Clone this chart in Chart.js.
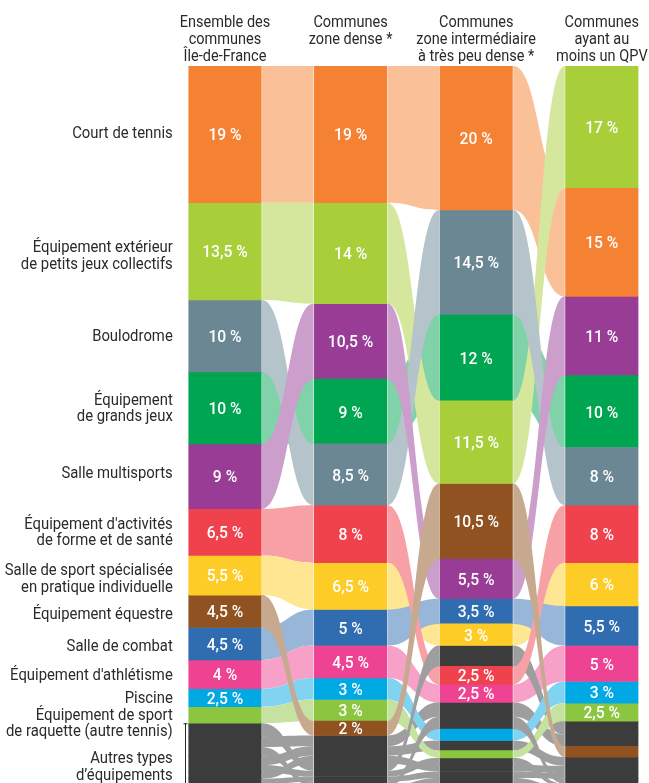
<!DOCTYPE html>
<html lang="fr">
<head>
<meta charset="utf-8">
<title>Types d'équipements par catégorie de communes</title>
<script src="https://cdn.jsdelivr.net/npm/chart.js@4/dist/chart.umd.min.js"></script>
<style>
  html, body { margin: 0; padding: 0; background: #fff; overflow: hidden; }
  canvas { display: block; }
</style>
</head>
<body>
<canvas id="chart" width="649" height="783"></canvas>
<script>
// Column headers (one array per column, one entry per line)
const columns = [
    ['Ensemble des', 'communes', 'Île-de-France'],
    ['Communes', 'zone dense *'],
    ['Communes', 'zone intermédiaire', 'à très peu dense *'],
    ['Communes', 'ayant au', 'moins un QPV']
];

// Equipment types (left labels)
const categories = [
    'Court de tennis',
    ['Équipement extérieur', 'de petits jeux collectifs'],
    'Boulodrome',
    ['Équipement', 'de grands jeux'],
    'Salle multisports',
    ["Équipement d'activités", 'de forme et de santé'],
    ['Salle de sport spécialisée', 'en pratique individuelle'],
    'Équipement équestre',
    'Salle de combat',
    "Équipement d'athlétisme",
    'Piscine',
    ['Équipement de sport', 'de raquette (autre tennis)']
];
const autresLabel = ['Autres types', 'd’équipements'];

const colors = ['#f58233', '#a8ce3a', '#6b8794', '#00a551', '#993c96', '#ef424c',
                '#fecc26', '#8f5220', '#2f6cb0', '#ee4392', '#00a9e4', '#8cc540'];
const autresColor = '#3c3c3c';

// Share of each type (%) : [IdF, zone dense, intermédiaire, QPV]
const tennis      = [19, 19, 20, 15];
const exterieur   = [13.5, 14, 11.5, 17];
const boulodrome  = [10, 8.5, 14.5, 8];
const grandsJeux  = [10, 9, 12, 10];
const multisports = [9, 10.5, 5.5, 11];
const forme       = [6.5, 8, 2.5, 8];
const specialisee = [5.5, 6.5, 3, 6];
const equestre    = [4.5, 2, 10.5, 1.5];
const combat      = [4.5, 5, 3.5, 5.5];
const athletisme  = [4, 4.5, 2.5, 5];
const piscine     = [2.5, 3, 1.6, 3];
const raquette    = [2.3, 3, 1, 2.5];

// "Autres types" split in several small types (all drawn in grey)
const autresDetail = [
    [1.8, 1.0, 2.9, 1.9],
    [1.5, 1.5, 2.0, 1.6],
    [1.3, 0.6, 1.7, 0.7],
    [1.2, 1.3, 1.4, 1.2],
    [1.0, 0.8, 0.95, 0.5],
    [0.9, 1.1, 0.95, 1.0],
    [0.8, 0.7, 0.9, 0.8],
    [0.7, 0.5, 0.9, 0.4]
];

// bars without a printed value: [column, category]
const unlabeled = [[0, 11]];

const series = [tennis, exterieur, boulodrome, grandsJeux, multisports, forme,
                specialisee, equestre, combat, athletisme, piscine, raquette];

// ---- layout
const W = 649, H = 783;
const firstCenter = 225, colStep = 125.6, barWidth = 72.5;
const plotTop = 66;
const yMax = 99.6;
const textColor = '#2a2a2a';
// vertical nudges of some type names (px)
const nameShift = { 0: -1, 1: 4, 4: -3, 6: 3, 7: 3, 8: 2, 9: 1, 11: 8 };

const items = series.map((vals, i) => ({ vals, color: colors[i], gray: false, cat: i }))
    .concat(autresDetail.map(vals => ({ vals, color: autresColor, gray: true, cat: -1 })));

// stack each column, biggest on top
const ranges = items.map(() => []);
const ranks = items.map(() => []);
for (let j = 0; j < columns.length; j++) {
    const order = items.map((_, i) => i).sort((a, b) => items[b].vals[j] - items[a].vals[j]);
    let acc = 0;
    order.forEach((i, r) => {
        ranges[i][j] = [acc, acc + items[i].vals[j]];
        ranks[i][j] = r;
        acc += items[i].vals[j];
    });
}

function lighten(hex) {
    const n = parseInt(hex.slice(1), 16);
    const c = [n >> 16, (n >> 8) & 255, n & 255].map(v => Math.round(v + (255 - v) * 0.5));
    return 'rgb(' + c.join(',') + ')';
}

function barBox(chart, i, j) {
    const el = chart.getDatasetMeta(i).data[j];
    return {
        left: el.x - el.width / 2,
        right: el.x + el.width / 2,
        top: Math.min(el.y, el.base),
        bottom: Math.max(el.y, el.base),
        cx: el.x
    };
}

function condText(ctx, text, x, y, align, sx) {
    ctx.save();
    ctx.translate(x, y);
    ctx.scale(sx, 1);
    ctx.textAlign = align;
    ctx.fillText(text, 0, 0);
    ctx.restore();
}

// flows between neighbouring columns
const flowPlugin = {
    id: 'flows',
    beforeDatasetsDraw(chart) {
        const ctx = chart.ctx;
        ctx.save();
        for (let j = 0; j < columns.length - 1; j++) {
            // the ones that move the most are drawn last (on top)
            const order = items.map((_, i) => i).sort((a, b) =>
                Math.abs(ranks[a][j] - ranks[a][j + 1]) - Math.abs(ranks[b][j] - ranks[b][j + 1]));
            order.forEach(i => {
                const a = barBox(chart, i, j), b = barBox(chart, i, j + 1);
                const x0 = a.right + 0.8, x1 = b.left - 0.8, xm = (x0 + x1) / 2;
                ctx.beginPath();
                ctx.moveTo(x0, a.top);
                ctx.bezierCurveTo(xm, a.top, xm, b.top, x1, b.top);
                ctx.lineTo(x1, b.bottom);
                ctx.bezierCurveTo(xm, b.bottom, xm, a.bottom, x0, a.bottom);
                ctx.closePath();
                ctx.fillStyle = lighten(items[i].color);
                ctx.fill();
            });
        }
        ctx.restore();
    }
};

// texts: values, headers, type names
const labelPlugin = {
    id: 'labels',
    afterDatasetsDraw(chart) {
        const ctx = chart.ctx;
        ctx.save();
        ctx.textBaseline = 'alphabetic';

        // values in the bars
        ctx.fillStyle = '#fff';
        ctx.font = '500 17px Roboto, sans-serif';
        items.forEach((it, i) => {
            if (it.gray) return;
            it.vals.forEach((v, j) => {
                if (v < 2) return;
                if (unlabeled.some(u => u[0] === j && u[1] === it.cat)) return;
                const box = barBox(chart, i, j);
                const txt = String(v).replace('.', ',') + ' %';
                condText(ctx, txt, box.cx, (box.top + box.bottom) / 2 + 6, 'center', 0.92);
            });
        });

        ctx.fillStyle = textColor;
        ctx.font = '16.5px Roboto, sans-serif';

        // column headers
        columns.forEach((lines, j) => {
            const x = chart.scales.x.getPixelForValue(j);
            lines.forEach((line, k) => condText(ctx, line, x, 27 + k * 17.2, 'center', 0.88));
        });

        // type names, next to the first column
        const xRight = barBox(chart, 0, 0).left - 16;
        const drawName = (name, center) => {
            const lines = Array.isArray(name) ? name : [name];
            const y0 = center + 5 - (lines.length - 1) * 8.25;
            lines.forEach((line, k) => condText(ctx, line, xRight, y0 + k * 16.5, 'right', 0.9));
        };
        categories.forEach((name, c) => {
            const box = barBox(chart, c, 0);
            drawName(name, (box.top + box.bottom) / 2 + (nameShift[c] || 0));
        });

        // "autres" group: union of the grey bars of the first column
        const grays = items.map((it, i) => i).filter(i => items[i].gray).map(i => barBox(chart, i, 0));
        const gTop = Math.min(...grays.map(g => g.top));
        const gBottom = Math.max(...grays.map(g => g.bottom));
        drawName(autresLabel, (gTop + gBottom) / 2 + 10);

        // bracket along the grey group
        ctx.strokeStyle = textColor;
        ctx.lineWidth = 1;
        const bx = Math.round(barBox(chart, 0, 0).left) - 3.5;
        ctx.beginPath();
        ctx.moveTo(bx, gTop);
        ctx.lineTo(bx, H);
        ctx.moveTo(bx - 2, gTop + 0.5);
        ctx.lineTo(bx + 2, gTop + 0.5);
        ctx.stroke();

        ctx.restore();
    }
};

new Chart(document.getElementById('chart').getContext('2d'), {
    type: 'bar',
    data: {
        datasets: items.map((it, i) => ({
            label: it.gray ? 'Autres' : [].concat(categories[it.cat]).join(' '),
            data: ranges[i].map((r, j) => ({ x: j, y: r })),
            backgroundColor: it.color,
            borderWidth: 0,
            barThickness: barWidth,
            grouped: false
        }))
    },
    options: {
        responsive: false,
        animation: false,
        events: [],
        layout: { padding: { top: plotTop, left: 0, right: 0, bottom: 0 } },
        scales: {
            x: {
                type: 'linear', offset: false, display: false,
                min: -firstCenter / colStep, max: (W - firstCenter) / colStep
            },
            y: { type: 'linear', reverse: true, min: 0, max: yMax, display: false }
        },
        plugins: { legend: { display: false }, tooltip: { enabled: false } }
    },
    plugins: [flowPlugin, labelPlugin]
});
</script>
</body>
</html>
